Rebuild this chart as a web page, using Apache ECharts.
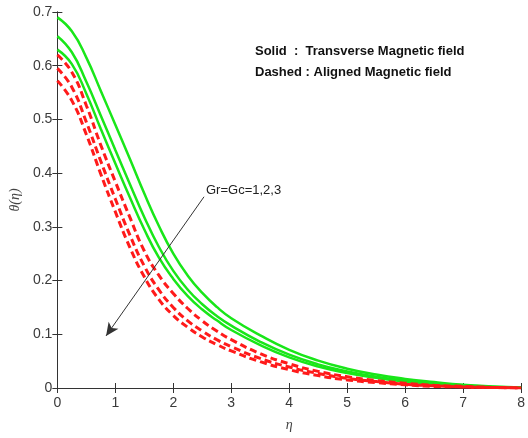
<!DOCTYPE html>
<html lang="en">
<head>
	<meta charset="UTF-8">
	<title>theta profile</title>
	<script src="https://cdn.jsdelivr.net/npm/echarts@6/dist/echarts.min.js"></script>
	<style>
		html, body { margin: 0; padding: 0; background: #fff; }
		#chart { width: 528px; height: 438px; }
	</style>
</head>
<body>
	<div id="chart"></div>
<script>
	// eta values (x axis)
	var eta = [0, 0.25, 0.5, 0.75, 1, 1.25, 1.5, 1.75, 2, 2.25, 2.5, 2.75, 3,
		3.5, 4, 4.5, 5, 5.5, 6, 6.5, 7, 7.5, 8];

	// solid: transverse magnetic field, Gr=Gc=1,2,3
	var solid1 = [0.690, 0.664, 0.615, 0.553, 0.490, 0.427, 0.362, 0.302, 0.250, 0.209, 0.177, 0.151, 0.130,
		0.098, 0.071, 0.051, 0.036, 0.025, 0.017, 0.011, 0.006, 0.003, 0.001];
	var solid2 = [0.655, 0.625, 0.570, 0.507, 0.443, 0.380, 0.318, 0.263, 0.218, 0.183, 0.156, 0.134, 0.116,
		0.086, 0.062, 0.044, 0.031, 0.021, 0.014, 0.009, 0.005, 0.002, 0.001];
	var solid3 = [0.630, 0.603, 0.548, 0.482, 0.418, 0.355, 0.295, 0.243, 0.203, 0.171, 0.146, 0.126, 0.108,
		0.080, 0.057, 0.040, 0.028, 0.019, 0.012, 0.008, 0.004, 0.002, 0.001];

	// dashed: aligned magnetic field
	var dashed1 = [0.620, 0.588, 0.526, 0.452, 0.384, 0.318, 0.255, 0.210, 0.176, 0.148, 0.125, 0.106, 0.090,
		0.064, 0.045, 0.031, 0.021, 0.014, 0.009, 0.005, 0.003, 0.001, 0.000];
	var dashed2 = [0.595, 0.560, 0.495, 0.422, 0.352, 0.285, 0.227, 0.183, 0.150, 0.125, 0.106, 0.090, 0.077,
		0.055, 0.039, 0.027, 0.018, 0.012, 0.007, 0.004, 0.002, 0.001, 0.000];
	var dashed3 = [0.572, 0.535, 0.472, 0.398, 0.328, 0.262, 0.207, 0.165, 0.135, 0.113, 0.095, 0.081, 0.069,
		0.049, 0.034, 0.023, 0.015, 0.010, 0.006, 0.003, 0.002, 0.001, 0.000];

	// arrow from the label down to lower left
	var arrowFrom = [2.53, 0.356];
	var arrowTo = [0.84, 0.097];

	function pairs(ys) {
		var out = [];
		for (var i = 0; i < eta.length; i++) out.push([eta[i], ys[i]]);
		return out;
	}

	var tickFont = { color: '#3a3a3a', fontSize: 14, fontFamily: 'Liberation Sans' };
	var axisLine = { lineStyle: { color: '#333', width: 1 } };

	function solidSeries(ys) {
		return {
			type: 'line', data: pairs(ys), showSymbol: false, smooth: 0.5,
			lineStyle: { color: '#19e619', width: 2.5, type: 'solid' }, z: 2
		};
	}
	function dashedSeries(ys) {
		return {
			type: 'line', data: pairs(ys), showSymbol: false, smooth: 0.5,
			lineStyle: { color: '#ff1a1a', width: 3, type: [7, 4] }, z: 3
		};
	}

	var s1 = solidSeries(solid1);
	s1.markLine = {
		silent: true,
		symbol: ['none', 'arrow'],
		symbolSize: [9, 13],
		label: { show: false },
		lineStyle: { color: '#333', width: 1, type: 'solid' },
		data: [[{ coord: arrowFrom }, { coord: arrowTo }]]
	};

	var myChart = echarts.init(document.getElementById('chart'));
	var option = {
		animation: false,
		backgroundColor: '#fff',
		grid: { left: 57, right: 5, top: 12, bottom: 50 },
		xAxis: [{
			type: 'value', min: 0, max: 8, interval: 1,
			name: 'η', nameLocation: 'middle', nameGap: 30,
			nameTextStyle: { fontFamily: 'Liberation Serif', fontStyle: 'italic', fontSize: 14, color: '#444' },
			axisLine: axisLine,
			axisTick: { inside: true, length: 5, lineStyle: { color: '#333' } },
			axisLabel: Object.assign({ margin: 8 }, tickFont),
			splitLine: { show: false }
		}, {
			type: 'value', min: 0, max: 8, interval: 1, position: 'top',
			axisLine: axisLine,
			axisTick: { inside: true, length: 5, lineStyle: { color: '#333' } },
			axisLabel: { show: false },
			splitLine: { show: false }
		}],
		yAxis: [{
			type: 'value', min: 0, max: 0.7, interval: 0.1,
			name: 'θ(η)', nameLocation: 'middle', nameGap: 32, nameRotate: 90,
			nameTextStyle: { fontFamily: 'Liberation Serif', fontStyle: 'italic', fontSize: 14, color: '#444' },
			axisLine: axisLine,
			axisTick: { inside: true, length: 5, lineStyle: { color: '#333' } },
			axisLabel: Object.assign({ margin: 5 }, tickFont),
			splitLine: { show: false }
		}, {
			type: 'value', min: 0, max: 0.7, interval: 0.1, position: 'right',
			axisLine: axisLine,
			axisTick: { inside: true, length: 5, lineStyle: { color: '#333' } },
			axisLabel: { show: false },
			splitLine: { show: false }
		}],
		graphic: [
			{ type: 'text', left: 255, top: 45,
				style: { text: 'Solid  :  Transverse Magnetic field', font: 'bold 13px "Liberation Sans"', fill: '#111' } },
			{ type: 'text', left: 255, top: 66,
				style: { text: 'Dashed : Aligned Magnetic field', font: 'bold 13px "Liberation Sans"', fill: '#111' } },
			{ type: 'text', left: 206, top: 184,
				style: { text: 'Gr=Gc=1,2,3', font: '13px "Liberation Sans"', fill: '#222' } }
		],
		series: [
			s1,
			solidSeries(solid2),
			solidSeries(solid3),
			dashedSeries(dashed1),
			dashedSeries(dashed2),
			dashedSeries(dashed3)
		]
	};
	myChart.setOption(option);
</script>
</body>
</html>
